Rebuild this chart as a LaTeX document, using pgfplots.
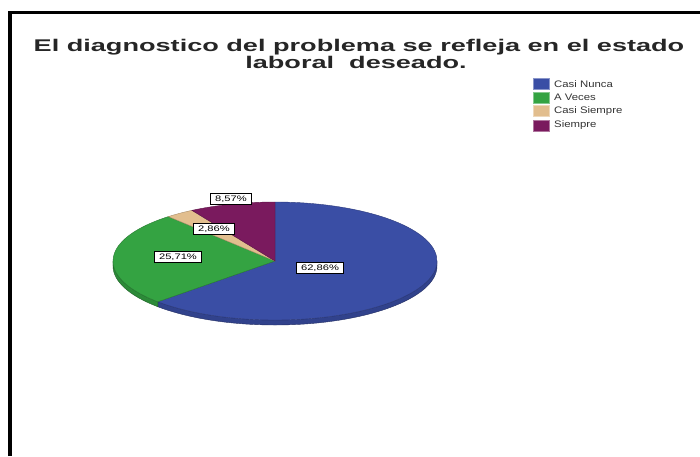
\documentclass[border=0pt]{standalone}
\usepackage{pgfplots}
\pgfplotsset{compat=1.18}
\usepackage{pgfplotstable}
\usepackage{graphicx}
\usepackage{fontspec}
\setmainfont{Liberation Sans}

\definecolor{cNunca}{RGB}{58,78,165}
\definecolor{cVeces}{RGB}{52,163,66}
\definecolor{cCasiS}{RGB}{226,190,142}
\definecolor{cSiempre}{RGB}{122,26,94}

\pgfplotstableread{
valor
62.86
25.71
2.86
8.57
}\piedata

\newcommand\sector[3]{%
  \fill[#1, draw=#1!75!black, line width=0.4bp] ([shift={(#2:162bp and 59bp)}]axis cs:275,261)
    arc[start angle=#2, end angle=#3, x radius=162bp, y radius=59bp]
    -- (axis cs:275,261) -- cycle;}
\newcommand\side[3]{%
  \fill[#1, draw=#1!70!black, line width=0.4bp] ([shift={(#2:162bp and 59bp)}]axis cs:275,261)
    arc[start angle=#2, end angle=#3, x radius=162bp, y radius=59bp]
    -- ++(0,-5bp)
    arc[start angle=#3, end angle=#2, x radius=162bp, y radius=59bp] -- cycle;}
\newcommand\lab[2]{%
  \node[draw=black, line width=0.7bp, fill=white, inner xsep=4.5bp, inner ysep=2.2bp,
        font=\fontsize{8}{9}\selectfont] at (axis cs:#1) {\scalebox{1.4}[1]{#2}};}
\newcommand\leg[3]{%
  \fill[#1, draw=#1!60!white, line width=0.6bp] (axis cs:533,#2-5.5) rectangle (axis cs:549,#2+5.5);
  \node[anchor=west, inner sep=0pt, font=\fontsize{9.5}{10}\selectfont, text=black!80] at (axis cs:554,#2) {\scalebox{1.2}[1]{#3}};}

\begin{document}
\begin{tikzpicture}
\pgfplotstablegetelem{0}{valor}\of\piedata \let\vA\pgfplotsretval
\pgfplotstablegetelem{1}{valor}\of\piedata \let\vB\pgfplotsretval
\pgfplotstablegetelem{2}{valor}\of\piedata \let\vC\pgfplotsretval
\pgfplotstablegetelem{3}{valor}\of\piedata \let\vD\pgfplotsretval
\pgfmathsetmacro{\aA}{90-3.6*\vA}
\pgfmathsetmacro{\aB}{\aA-3.6*\vB}
\pgfmathsetmacro{\aC}{\aB-3.6*\vC}
\begin{axis}[name=ax, width=700bp, height=456bp, scale only axis,
  xmin=0, xmax=700, ymin=0, ymax=456, y dir=reverse,
  axis lines=none, clip=false]
% frame
\draw[line width=3.5bp, black, line join=miter] (axis cs:10,456) -- (axis cs:10,12.5) -- (axis cs:700,12.5);
% title
\node[anchor=base, inner sep=0pt, font=\bfseries\fontsize{17}{17}\selectfont, text=black!85] at (axis cs:359,52)
  {\scalebox{1.6}[1]{El diagnostico del problema se refleja en el estado}};
\node[anchor=base, inner sep=0pt, font=\bfseries\fontsize{17}{17}\selectfont, text=black!85] at (axis cs:356,69)
  {\scalebox{1.6}[1]{laboral\ \ deseado.}};
% legend
\leg{cNunca}{84}{Casi Nunca}
\leg{cVeces}{97.5}{A Veces}
\leg{cCasiS}{111}{Casi Siempre}
\leg{cSiempre}{125.5}{Siempre}
% pie side
\side{cNunca!85!black}{\aA}{0}
\side{cVeces!85!black}{-180}{\aA}
% pie top
\sector{cNunca}{\aA}{90}
\sector{cVeces}{\aB}{\aA}
\sector{cCasiS}{\aC}{\aB}
\sector{cSiempre}{-270}{\aC}
% labels
\lab{320,268}{62,86\%}
\lab{178,257}{25,71\%}
\lab{214,229}{2,86\%}
\lab{231,199}{8,57\%}
\end{axis}
\pgfresetboundingbox
\path (ax.south west) rectangle (ax.north east);
\end{tikzpicture}
\end{document}
